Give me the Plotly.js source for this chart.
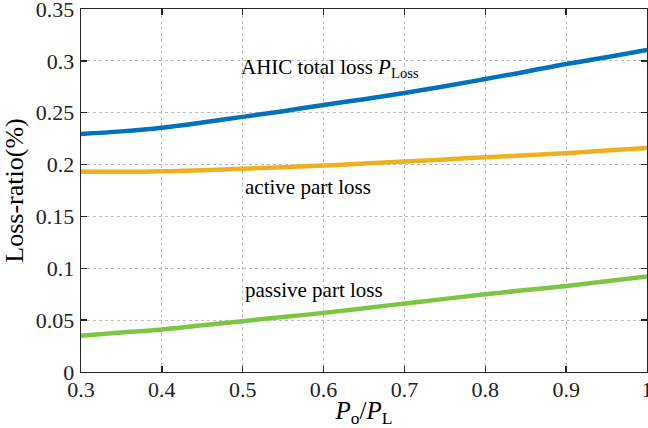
<!DOCTYPE html>
<html><head><meta charset="utf-8">
<script src="https://cdn.plot.ly/plotly-3.0.1.min.js"></script>
<style>html,body{margin:0;padding:0;background:#fff}#chart{width:648px;height:428px}</style>
</head><body><div id="chart"></div>
<script>
const xVals = [0.3, 0.35, 0.4, 0.45, 0.5, 0.55, 0.6, 0.65, 0.7, 0.75, 0.8, 0.85, 0.9, 0.95, 1.0];
const totalLoss = [0.2295, 0.232, 0.2355, 0.2405, 0.246, 0.2515, 0.2575, 0.263, 0.269, 0.2755, 0.2825, 0.2895, 0.297, 0.3035, 0.3105];
const activeLoss = [0.193, 0.193, 0.1935, 0.1945, 0.196, 0.1975, 0.199, 0.201, 0.203, 0.205, 0.207, 0.209, 0.211, 0.2135, 0.216];
const passiveLoss = [0.035, 0.038, 0.041, 0.045, 0.049, 0.053, 0.057, 0.0615, 0.066, 0.0705, 0.075, 0.079, 0.083, 0.0875, 0.092];
const xTicks = [0.3, 0.4, 0.5, 0.6, 0.7, 0.8, 0.9, 1.0];
const xTickText = ["0.3", "0.4", "0.5", "0.6", "0.7", "0.8", "0.9", "1"];
const yTicks = [0, 0.05, 0.1, 0.15, 0.2, 0.25, 0.3, 0.35];
const yTickText = ["0", "0.05", "0.1", "0.15", "0.2", "0.25", "0.3", "0.35"];
const labels = ["AHIC total loss <i>P</i><sub>Loss</sub>", "active part loss", "passive part loss"];
const labelX = [0.496, 0.5, 0.5];
const labelY = [0.293, 0.178, 0.079];

const fam = "Liberation Serif";
const traces = [
  {x: xVals, y: totalLoss, mode: "lines", line: {color: "#0072BD", width: 4.5, shape: "spline"}},
  {x: xVals, y: activeLoss, mode: "lines", line: {color: "#EDB120", width: 4.5, shape: "spline"}},
  {x: xVals, y: passiveLoss, mode: "lines", line: {color: "#7CC644", width: 4.5, shape: "spline"}}
];
function axisCommon() {
  return {
    showline: true, linecolor: "#262626", linewidth: 1.3, mirror: "ticks",
    ticks: "inside", ticklen: 6, tickcolor: "#262626", tickwidth: 1.3,
    showgrid: true, gridcolor: "#bdbdbd", griddash: "dot", gridwidth: 1,
    zeroline: false, ticklabeloverflow: "allow",
    tickfont: {family: fam, size: 22, color: "#222"}
  };
}
const layout = {
  width: 648, height: 428, showlegend: false,
  font: {family: fam, size: 22, color: "#000"},
  paper_bgcolor: "#fff", plot_bgcolor: "#fff",
  margin: {l: 81, r: 1, t: 9, b: 56},
  xaxis: Object.assign(axisCommon(), {range: [0.3, 1.0], tickmode: "array", tickvals: xTicks, ticktext: xTickText,
    ticklabelstandoff: -3,
    title: {text: "<i>P</i><sub>o</sub>/<i>P</i><sub>L</sub>", font: {family: fam, size: 25, color: "#000"}, standoff: 2}}),
  yaxis: Object.assign(axisCommon(), {range: [0, 0.35], tickmode: "array", tickvals: yTicks, ticktext: yTickText,
    ticklabelstandoff: 1,
    title: {text: "Loss-ratio(%)", font: {family: fam, size: 26, color: "#000"}, standoff: 6}}),
  annotations: labels.map((t, i) => ({x: labelX[i], y: labelY[i], xref: "x", yref: "y", text: t,
    showarrow: false, xanchor: "left", yanchor: "middle", font: {family: fam, size: 21, color: "#000"}}))
};
Plotly.newPlot("chart", traces, layout, {staticPlot: true, displayModeBar: false});
</script></body></html>
